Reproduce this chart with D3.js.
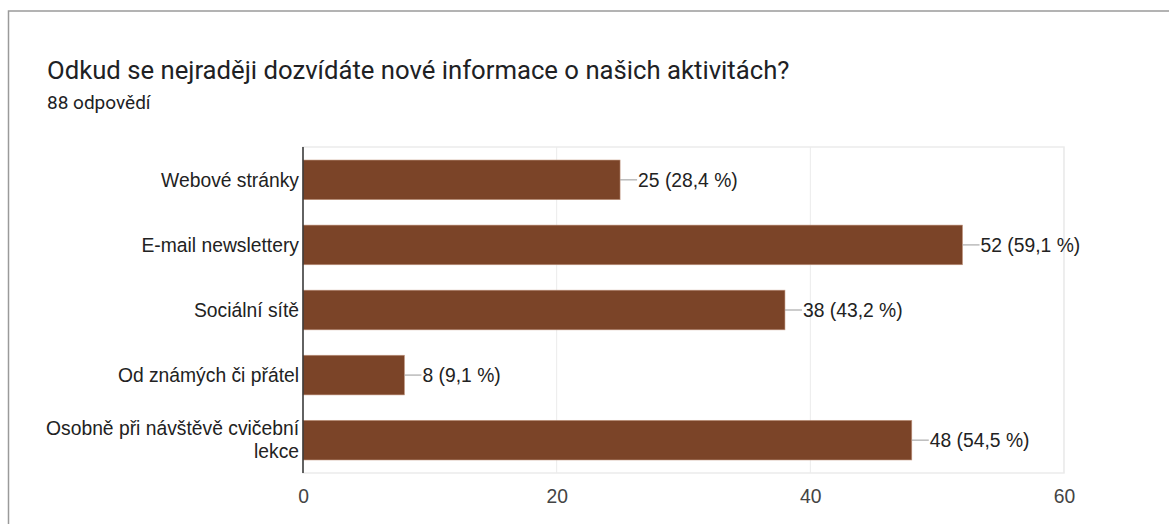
<!DOCTYPE html>
<html>
<head>
<meta charset="utf-8">
<script src="https://cdn.jsdelivr.net/npm/d3@7"></script>
<style>
  html, body { margin: 0; padding: 0; background: #fff; }
  svg { display: block; }
</style>
</head>
<body>
<svg id="chart" width="1169" height="524"></svg>
<script>
// Survey answers: source of information about activities
const categories = [
  "Webové stránky",
  "E-mail newslettery",
  "Sociální sítě",
  "Od známých či přátel",
  "Osobně při návštěvě cvičební lekce"
];
const counts = [25, 52, 38, 8, 48];
const percentLabels = ["28,4 %", "59,1 %", "43,2 %", "9,1 %", "54,5 %"];
const xTicks = [0, 20, 40, 60];
const titleText = "Odkud se nejraději dozvídáte nové informace o našich aktivitách?";
const subtitleText = "88 odpovědí";

const svg = d3.select("#chart");
const W = 1169, H = 524;
const plot = { left: 303, right: 1064, top: 147, bottom: 473 };
const barColor = "#7b4428";
const labelFont = "'Liberation Sans', Arial, sans-serif";
const labelSize = 19.3;

// card frame
svg.append("rect")
  .attr("x", 8.5).attr("y", 11)
  .attr("width", W + 10).attr("height", H + 10)
  .attr("fill", "#fff")
  .attr("stroke", "#9a9a9a").attr("stroke-width", 1.5);

svg.append("text")
  .attr("x", 47).attr("y", 79)
  .attr("font-family", "Roboto, sans-serif")
  .attr("font-size", 25.7)
  .attr("fill", "#202124")
  .text(titleText);

svg.append("text")
  .attr("x", 47).attr("y", 109)
  .attr("font-family", "Roboto, sans-serif")
  .attr("font-size", 19)
  .attr("fill", "#202124")
  .text(subtitleText);

const x = d3.scaleLinear().domain([0, 60]).range([plot.left, plot.right]);
const y = d3.scaleBand().domain(categories)
  .range([plot.top, plot.bottom])
  .paddingInner(0.39).paddingOuter(0.2);

// plot frame and gridlines
svg.append("rect")
  .attr("x", plot.left).attr("y", plot.top)
  .attr("width", plot.right - plot.left).attr("height", plot.bottom - plot.top)
  .attr("fill", "none").attr("stroke", "#ebebeb").attr("stroke-width", 1.5);

svg.append("g").selectAll("line")
  .data(xTicks.filter(t => t > 0))
  .join("line")
  .attr("x1", d => x(d)).attr("x2", d => x(d))
  .attr("y1", plot.top).attr("y2", plot.bottom)
  .attr("stroke", "#ebebeb").attr("stroke-width", 1);

// x axis tick labels
const xAxis = d3.axisBottom(x).tickValues(xTicks).tickSize(0).tickPadding(0);
const gx = svg.append("g")
  .attr("transform", `translate(0,${plot.bottom + 16})`)
  .call(xAxis);
gx.select(".domain").remove();
gx.selectAll("text")
  .attr("font-family", labelFont)
  .attr("font-size", labelSize)
  .attr("fill", "#444")
  .attr("dy", "0.75em");

// bars
const data = categories.map((c, i) => ({ cat: c, v: counts[i], pct: percentLabels[i] }));

svg.append("g").selectAll("rect")
  .data(data)
  .join("rect")
  .attr("x", x(0))
  .attr("y", d => y(d.cat))
  .attr("width", d => x(d.v) - x(0))
  .attr("height", y.bandwidth())
  .attr("fill", barColor)
  .attr("stroke", "#c39a85").attr("stroke-width", 0.6);

// zero axis line
svg.append("line")
  .attr("x1", x(0)).attr("x2", x(0))
  .attr("y1", plot.top).attr("y2", plot.bottom)
  .attr("stroke", "#333").attr("stroke-width", 1.5);

// value annotations with leader lines
const ann = svg.append("g").selectAll("g")
  .data(data)
  .join("g")
  .attr("transform", d => `translate(${x(d.v)},${y(d.cat) + y.bandwidth() / 2})`);

ann.append("line")
  .attr("x1", 0).attr("x2", 17)
  .attr("y1", 0).attr("y2", 0)
  .attr("stroke", "#999").attr("stroke-width", 1);

ann.append("text")
  .attr("x", 18).attr("dy", "0.35em")
  .attr("font-family", labelFont)
  .attr("font-size", labelSize)
  .attr("fill", "#222")
  .text(d => `${d.v} (${d.pct})`);

// category labels (wrapped when too long)
svg.append("g").selectAll("text")
  .data(data)
  .join("text")
  .attr("text-anchor", "end")
  .attr("font-family", labelFont)
  .attr("font-size", labelSize)
  .attr("fill", "#222")
  .each(function(d) {
    const t = d3.select(this);
    const cy = y(d.cat) + y.bandwidth() / 2;
    const maxW = 258;
    const words = d.cat.split(" ");
    const lines = [];
    let cur = [];
    const probe = svg.append("text")
      .attr("font-family", labelFont).attr("font-size", labelSize);
    words.forEach(w => {
      probe.text([...cur, w].join(" "));
      if (cur.length && probe.node().getComputedTextLength() > maxW) {
        lines.push(cur.join(" "));
        cur = [w];
      } else {
        cur.push(w);
      }
    });
    lines.push(cur.join(" "));
    probe.remove();
    const lh = 23;
    const y0 = cy - (lines.length - 1) * lh / 2;
    lines.forEach((ln, i) => {
      t.append("tspan")
        .attr("x", x(0) - 4)
        .attr("y", y0 + i * lh)
        .attr("dy", "0.35em")
        .text(ln);
    });
  });
</script>
</body>
</html>
